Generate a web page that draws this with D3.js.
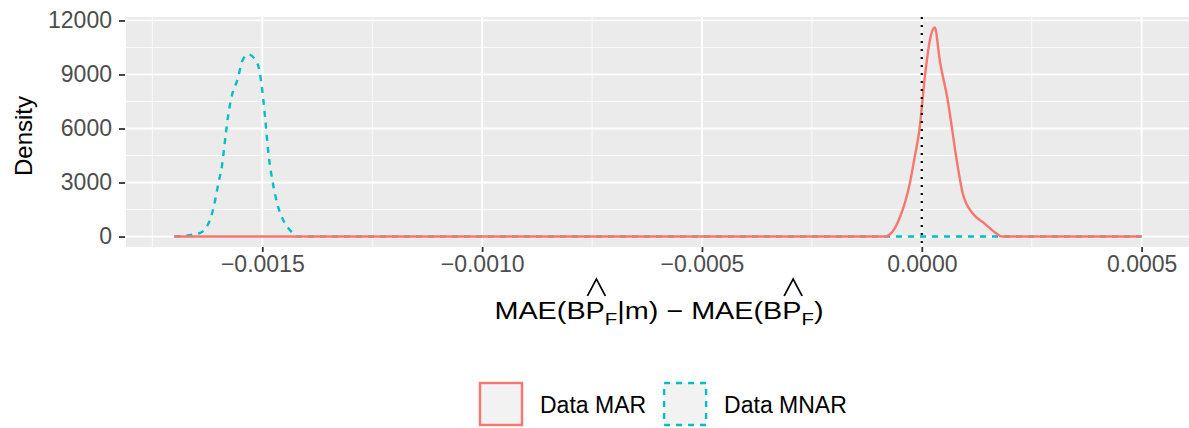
<!DOCTYPE html>
<html>
<head>
<meta charset="utf-8">
<script src="https://cdn.jsdelivr.net/npm/d3@7"></script>
<style>
  body { margin: 0; background: #fff; }
  text { font-family: "Liberation Sans", Arial, sans-serif; }
</style>
</head>
<body>
<div id="chart"></div>
<script>
// Data
const marX = [-0.0017, -0.000084, -0.00005, -0.0000273, -0.0000159, -0.000005, 0.0000068, 0.0000182,
  0.0000295, 0.0000409, 0.0000591, 0.0000795, 0.0000932, 0.000116, 0.000143, 0.00017, 0.000182, 0.0005];
const marY = [0, 0, 1056, 2944, 4450, 6000, 8833, 10889,
  11611, 9778, 7556, 4222, 2389, 1278, 722, 167, 0, 0];

const mnarX = [-0.0017, -0.001645, -0.001625, -0.001611, -0.0016, -0.001591, -0.001584, -0.001577,
  -0.001568, -0.001557, -0.001545, -0.001532, -0.001511, -0.0015, -0.001493, -0.001486, -0.001477,
  -0.001466, -0.001452, -0.001436, -0.00142, 0.0005];
const mnarY = [0, 170, 600, 1600, 2940, 4050, 5500, 6830,
  7940, 8670, 9780, 10110, 9610, 8110, 6440, 4610, 3110,
  1830, 890, 330, 0, 0];

const groups = ["Data MAR", "Data MNAR"];
const colors = ["#F8766D", "#00BFC4"];
const xTicks = [-0.0015, -0.001, -0.0005, 0, 0.0005];
const xTickLabels = ["\u22120.0015", "\u22120.0010", "\u22120.0005", "0.0000", "0.0005"];
const yTicks = [0, 3000, 6000, 9000, 12000];
const vlineX = 0;

// Dimensions
const W = 1189, H = 428;
const panel = { left: 126, right: 1190, top: 17, bottom: 247 };

const svg = d3.select("#chart").append("svg")
  .attr("width", W).attr("height", H);

// Scales with ggplot style 5% expansion
const allX = marX.concat(mnarX);
const allY = marY.concat(mnarY);
const xMin = d3.min(allX), xMax = d3.max(allX);
const yMin = d3.min(allY), yMax = d3.max(allY);
const xPad = (xMax - xMin) * 0.05, yPad = (yMax - yMin) * 0.05;

const x = d3.scaleLinear().domain([xMin - xPad, xMax + xPad]).range([panel.left, panel.right]);
const y = d3.scaleLinear().domain([yMin - yPad, yMax + yPad]).range([panel.bottom, panel.top]);

// Panel background
svg.append("rect")
  .attr("x", panel.left).attr("y", panel.top)
  .attr("width", panel.right - panel.left).attr("height", panel.bottom - panel.top)
  .attr("fill", "#EBEBEB");

// minor breaks
const minorOf = (ticks, dom) => {
  const step = ticks[1] - ticks[0];
  const out = ticks.map(t => t - step / 2);
  out.push(ticks[ticks.length - 1] + step / 2);
  return out.filter(v => v >= dom[0] && v <= dom[1]);
};

const grid = svg.append("g");
grid.selectAll(".xminor").data(minorOf(xTicks, x.domain())).join("line")
  .attr("x1", d => x(d)).attr("x2", d => x(d))
  .attr("y1", panel.top).attr("y2", panel.bottom)
  .attr("stroke", "#fff").attr("stroke-width", 0.8);
grid.selectAll(".yminor").data(minorOf(yTicks, y.domain())).join("line")
  .attr("y1", d => y(d)).attr("y2", d => y(d))
  .attr("x1", panel.left).attr("x2", panel.right)
  .attr("stroke", "#fff").attr("stroke-width", 0.8);
grid.selectAll(".xmajor").data(xTicks).join("line")
  .attr("x1", d => x(d)).attr("x2", d => x(d))
  .attr("y1", panel.top).attr("y2", panel.bottom)
  .attr("stroke", "#fff").attr("stroke-width", 1.8);
grid.selectAll(".ymajor").data(yTicks).join("line")
  .attr("y1", d => y(d)).attr("y2", d => y(d))
  .attr("x1", panel.left).attr("x2", panel.right)
  .attr("stroke", "#fff").attr("stroke-width", 1.8);

// Axes
const xAxis = svg.append("g")
  .attr("transform", "translate(0," + panel.bottom + ")")
  .call(d3.axisBottom(x).tickValues(xTicks).tickFormat((d, i) => xTickLabels[i]).tickSize(5).tickPadding(4));
const yAxis = svg.append("g")
  .attr("transform", "translate(" + (panel.left - 1) + ",0)")
  .call(d3.axisLeft(y).tickValues(yTicks).tickFormat(d3.format("d")).tickSize(6).tickPadding(7));
[xAxis, yAxis].forEach(a => {
  a.select(".domain").remove();
  a.selectAll(".tick line").attr("stroke", "#333").attr("stroke-width", 1.8);
  a.selectAll(".tick text").attr("fill", "#4D4D4D").style("font-size", "23px");
});

// Density lines
const line = d3.line().x(d => x(d[0])).y(d => y(d[1])).curve(d3.curveMonotoneX);
const mar = d3.zip(marX, marY);
const mnar = d3.zip(mnarX, mnarY);

svg.append("path").datum(mnar)
  .attr("d", line).attr("fill", "none")
  .attr("stroke", colors[1]).attr("stroke-width", 2.4)
  .attr("stroke-dasharray", "6,6");
svg.append("path").datum(mar)
  .attr("d", line).attr("fill", "none")
  .attr("stroke", colors[0]).attr("stroke-width", 2.4);

// reference line at zero
svg.append("line")
  .attr("x1", x(vlineX)).attr("x2", x(vlineX))
  .attr("y1", panel.top).attr("y2", panel.bottom)
  .attr("stroke", "#000").attr("stroke-width", 2.2)
  .attr("stroke-dasharray", "2,6");

// Axis titles
svg.append("text")
  .attr("transform", "translate(32," + ((panel.top + panel.bottom) / 2 + 4) + ") rotate(-90)")
  .attr("text-anchor", "middle")
  .style("font-size", "24px")
  .text("Density");

// x title drawn like plotmath: hats over P, subscript F
const tg = svg.append("g")
  .attr("transform", "translate(" + ((panel.left + panel.right) / 2 + 1) + ",319) scale(1.2,1)");
const xt = tg.append("text")
  .attr("x", 0).attr("y", 0)
  .style("font-size", "24px");
const parts = [["MAE(B", 0], ["P", 0, true], ["F", 1], ["|m) \u2212 MAE(B", 0], ["P", 0, true], ["F", 1], [")", 0]];
let shift = 0;
const spans = parts.map(p => {
  const dy = p[1] ? 6 - shift : -shift;
  shift = p[1] ? 6 : 0;
  return xt.append("tspan").attr("dy", dy)
    .style("font-size", p[1] ? "17px" : "24px")
    .text(p[0]);
});
const widths = spans.map(s => s.node().getComputedTextLength());
const total = d3.sum(widths);
xt.attr("x", -total / 2);
let cum = -total / 2;
parts.forEach((p, i) => {
  if (p[2]) {
    const cx = cum + widths[i] / 2 + 1;
    tg.append("path")
      .attr("d", "M" + (cx - 7.5) + ",-23L" + cx + ",-40L" + (cx + 7.5) + ",-23")
      .attr("fill", "none").attr("stroke", "#000").attr("stroke-width", 1.5);
  }
  cum += widths[i];
});

// Legend
const lg = svg.append("g");
let lx = 479;
groups.forEach((g, i) => {
  lg.append("rect")
    .attr("x", lx + 1).attr("y", 383)
    .attr("width", 42).attr("height", 42)
    .attr("fill", "#F2F2F2")
    .attr("stroke", colors[i]).attr("stroke-width", 2.4)
    .attr("stroke-dasharray", i === 1 ? "6,6" : null);
  const t = lg.append("text")
    .attr("x", lx + 61).attr("y", 413)
    .style("font-size", "23px")
    .text(g);
  lx = lx + 61 + t.node().getComputedTextLength() + 17;
});
</script>
</body>
</html>
